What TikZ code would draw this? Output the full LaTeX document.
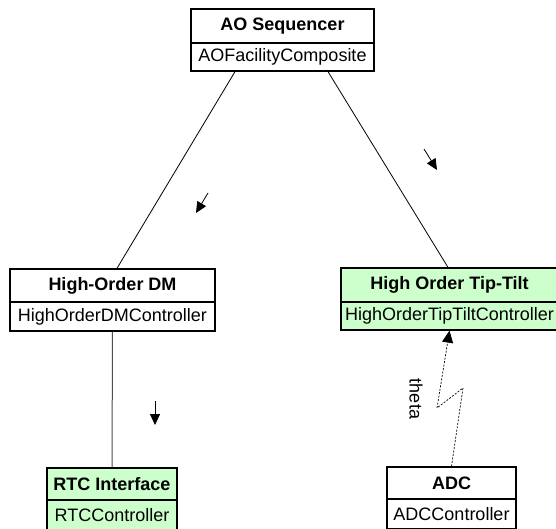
\documentclass[tikz,border=0pt]{standalone}
\usepackage{fontspec}
\setmainfont{Liberation Sans}
\usetikzlibrary{arrows.meta,calc}
\definecolor{boxgreen}{RGB}{204,255,204}
\tikzset{
  x=1pt, y=-1pt,
  hdr/.style={draw=black, line width=1.3pt, inner sep=0pt, font=\fontsize{18}{20}\selectfont\bfseries, anchor=center},
  sub/.style={draw=black, line width=1.3pt, inner sep=0pt, font=\fontsize{18}{20}\selectfont, anchor=center},
  assoc/.style={draw=black, line width=0.8pt},
  navarrow/.style={draw=black, line width=0.8pt, -{Triangle[length=11pt,width=10pt]}},
  dep/.style={draw=black, line width=0.7pt, dash pattern=on 2pt off 1.5pt, -{Triangle[length=12pt,width=11pt]}, shorten >=0pt}
}
\begin{document}
\begin{tikzpicture}
\useasboundingbox (0,0) rectangle (556,529);
\clip (0,0) rectangle (556,529);
\fill[white] (0,0) rectangle (556,529);
% AO Sequencer
\node[hdr, fill=white, minimum width=183pt, minimum height=34pt] (ao) at (282.5,26) {AO Sequencer};
\node[sub, fill=white, minimum width=183pt, minimum height=28pt] (aosub) at (282.5,57) {AOFacilityComposite};
% High-Order DM
\node[hdr, fill=white, minimum width=205pt, minimum height=33pt] (hdm) at (112.5,285.5) {High-Order DM};
\node[sub, fill=white, minimum width=205pt, minimum height=29pt] (hdmsub) at (112.5,316.5) {HighOrderDMController};
% High Order Tip-Tilt
\node[hdr, fill=boxgreen, minimum width=217pt, minimum height=34pt] (tt) at (449.5,285) {High Order Tip-Tilt};
\node[sub, fill=boxgreen, minimum width=217pt, minimum height=28pt] (ttsub) at (449.5,316) {HighOrderTipTiltController};
% RTC Interface
\node[hdr, fill=boxgreen, minimum width=130pt, minimum height=32pt] (rtc) at (112,484) {RTC Interface};
\node[sub, fill=boxgreen, minimum width=130pt, minimum height=31pt] (rtcsub) at (112,515.5) {RTCController};
% ADC
\node[hdr, fill=white, minimum width=129pt, minimum height=32pt] (adc) at (451.5,483) {ADC};
\node[sub, fill=white, minimum width=129pt, minimum height=30pt] (adcsub) at (451.5,514) {ADCController};
% associations
\draw[assoc] ($(aosub.south)+(-47.5,0)$) -- ($(hdm.north)+(4.5,0)$);
\draw[assoc] ($(aosub.south)+(45.5,0)$) -- ($(tt.north)+(-1.5,0)$);
\draw[assoc, draw=black!70, line width=1pt] (hdmsub.south) -- (rtc.north);
% navigation markers
\coordinate (m1s) at (208,193); \coordinate (m1e) at (196,213);
\coordinate (m2s) at (424,149); \coordinate (m2e) at (437,170);
\coordinate (m3s) at (155,401); \coordinate (m3e) at (155,425);
\draw[navarrow] (m1s) -- (m1e);
\draw[navarrow] (m2s) -- (m2e);
\draw[navarrow] (m3s) -- (m3e);
% theta dependency
\coordinate (k1) at (463,388);
\coordinate (k2) at (437,408);
\draw[dep] (adc.north) -- (k1) -- (k2) -- (ttsub.south);
\node[font=\fontsize{18}{20}\selectfont, rotate=-90, inner sep=0pt] (theta) at (416,399) {theta};
\end{tikzpicture}
\end{document}
